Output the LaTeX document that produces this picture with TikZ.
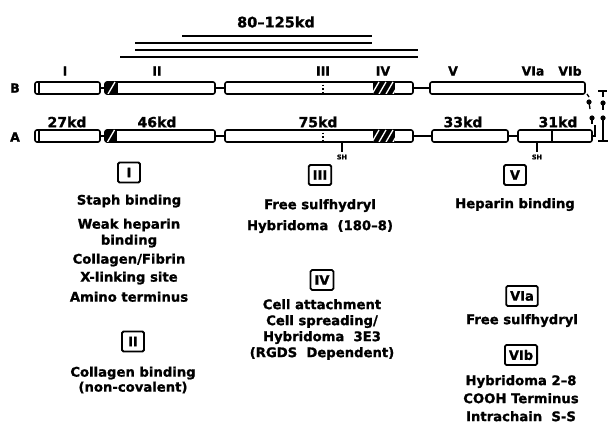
\documentclass[tikz,border=0pt]{standalone}
\usepackage{fontspec}
\setmainfont{DejaVu Sans}[BoldFeatures={FakeBold=1.2}]
\usepackage{tikz}
\usetikzlibrary{positioning,calc}
\tikzstyle{segment} = [rectangle, draw, line width=1.6pt, rounded corners=2pt,
    minimum height=12pt, inner sep=0pt]
\tikzstyle{link} = [line width=1.6pt]
\tikzstyle{frag} = [line width=1.5pt]
\tikzstyle{bond} = [line width=1.3pt]
\tikzstyle{domlabel} = [inner sep=0pt, font=\bfseries\fontsize{12.5}{14}\selectfont]
\tikzstyle{kdlabel} = [inner sep=0pt, font=\bfseries\fontsize{14}{16}\selectfont]
\tikzstyle{numbox} = [rectangle, draw, line width=1.8pt, rounded corners=1.5pt,
    minimum width=22pt, minimum height=20pt, inner xsep=4pt, font=\bfseries\fontsize{13}{14}\selectfont]
\tikzstyle{desc} = [align=center, inner sep=0pt, font=\bfseries\fontsize{13.2}{16}\selectfont]
\tikzstyle{shlabel} = [inner sep=0pt, font=\bfseries\fontsize{6.5}{7}\selectfont]
% black block with white stripes: x1, x2, ytop, ybot, stripe starts
\newcommand{\hatchblock}[5]{%
  \fill (#1,#3) rectangle (#2,#4);
  \begin{scope}
    \clip (#1,#3) rectangle (#2,#4);
    \foreach \s in {#5} \draw[white, line width=1.3pt] (\s,#4) -- (\s+7,#3);
  \end{scope}}

\begin{document}
\begin{tikzpicture}[x=1pt, y=-1pt]
\useasboundingbox (0,0) rectangle (611,430);

% fragments
\node[kdlabel, font=\bfseries\fontsize{14.5}{16}\selectfont] (frags) at (276,22) {80--125kd};
\draw[frag] (182,36) -- (372,36);
\draw[frag] (135,43) -- (372,43);
\draw[frag] (135,50) -- (418,50);
\draw[frag] (120,57) -- (418,57);

% chain B
\node[domlabel] (chainB) at (15,88) {B};
\node[segment, minimum width=65pt] (segB1) at (67.5,88) {};
\node[segment, minimum width=110pt] (segB2) at (160,88) {};
\node[segment, minimum width=188pt] (segB3) at (319,88) {};
\node[segment, minimum width=155pt] (segB4) at (507.5,88) {};
\draw[link] (segB1) -- (segB2);
\draw[link] (segB2) -- (segB3);
\draw[link] (segB3) -- (segB4);
\draw[link] ([xshift=5pt]segB1.north west) -- ([xshift=5pt]segB1.south west);
\hatchblock{105}{118}{82}{94}{108}
\hatchblock{373}{395}{82}{94}{372,379,386,393}
\draw[link, dotted] (323,81) -- (323,95);

% chain A
\node[domlabel] (chainA) at (15,137) {A};
\node[segment, minimum width=65pt] (segA1) at (67.5,136) {};
\node[segment, minimum width=110pt] (segA2) at (160,136) {};
\node[segment, minimum width=188pt] (segA3) at (319,136) {};
\node[segment, minimum width=76pt] (segA4) at (470,136) {};
\node[segment, minimum width=74pt] (segA5) at (555,136) {};
\draw[link] (segA1) -- (segA2);
\draw[link] (segA2) -- (segA3);
\draw[link] (segA3) -- (segA4);
\draw[link] (segA4) -- (segA5);
\draw[link] ([xshift=5pt]segA1.north west) -- ([xshift=5pt]segA1.south west);
\draw[link] (552,130) -- (552,142);
\hatchblock{105}{117}{130}{142}{107.5}
\hatchblock{373}{395}{130}{142}{372,379,386,393}
\draw[link, dotted] (323,129) -- (323,143);

% domain labels
\node[domlabel] (lI) at (65,71) {I};
\node[domlabel] (lII) at (157,71) {II};
\node[domlabel] (lIII) at (323,71) {III};
\node[domlabel] (lIV) at (383,71) {IV};
\node[domlabel] (lV) at (453,71) {V};
\node[domlabel] (lVIa) at (533,71) {VIa};
\node[domlabel] (lVIb) at (570,71) {VIb};

\node[kdlabel] (kd27) at (67,122) {27kd};
\node[kdlabel] (kd46) at (157,122) {46kd};
\node[kdlabel] (kd75) at (318,122) {75kd};
\node[kdlabel] (kd33) at (463,122) {33kd};
\node[kdlabel] (kd31) at (558,122) {31kd};

% free sulfhydryls
\node[shlabel] (shA3) at (342,157) {SH};
\node[shlabel] (shA5) at (537,157) {SH};
\draw[bond] (shA3.north |- segA3.south) -- ([yshift=2pt]shA3.north);
\draw[bond] (shA5.north |- segA5.south) -- ([yshift=2pt]shA5.north);

% interchain disulfides
\draw[bond] (587,94) -- (589,97);
\fill (589,102) circle (2.6pt);
\draw[bond] (589,102) -- (590,109);
\fill (592,118) circle (2.6pt);
\draw[bond] (592,118) -- (592,124);
\draw[bond] (segA5.east) -- (595,136) -- (595,125);
\draw[bond] (598,91) -- (607,91);
\draw[bond] (603,91) -- (603,97);
\fill (603,103) circle (2.6pt);
\draw[bond] (603,103) -- (603,110);
\fill (603,118) circle (2.6pt);
\draw[bond] (603,118) -- (603,141);
\draw[bond] (598,141) -- (608,141);

% domain functions
\node[numbox] (boxI) at (129,172.5) {I};
\node[desc, below=11pt of boxI] (descI) {Staph binding\\[8pt]
  Weak heparin\\ binding\\[3pt]
  Collagen/Fibrin\\[2pt] X-linking site\\[4pt]
  Amino terminus};

\node[numbox] (boxII) at (133,341.5) {II};
\node[desc, below=14pt of boxII] (descII) {Collagen binding\\[-1pt] (non-covalent)};

\node[numbox] (boxIII) at (320,175) {III};
\node[desc, below=13pt of boxIII] (descIII) {Free sulfhydryl\\[5pt] Hybridoma~ (180--8)};

\node[numbox] (boxIV) at (322,280) {IV};
\node[desc, below=8pt of boxIV] (descIV) {Cell attachment\\ Cell spreading/\\ Hybridoma~ 3E3\\ (RGDS~ Dependent)};

\node[numbox] (boxV) at (515,175) {V};
\node[desc, below=12pt of boxV] (descV) {Heparin binding};

\node[numbox] (boxVIa) at (522,296) {VIa};
\node[desc, below=7pt of boxVIa] (descVIa) {Free sulfhydryl};

\node[numbox] (boxVIb) at (521,355) {VIb};
\node[desc, below=9pt of boxVIb] (descVIb) {Hybridoma 2--8\\[2pt] COOH Terminus\\[2pt] Intrachain~ S-S};
\end{tikzpicture}
\end{document}
